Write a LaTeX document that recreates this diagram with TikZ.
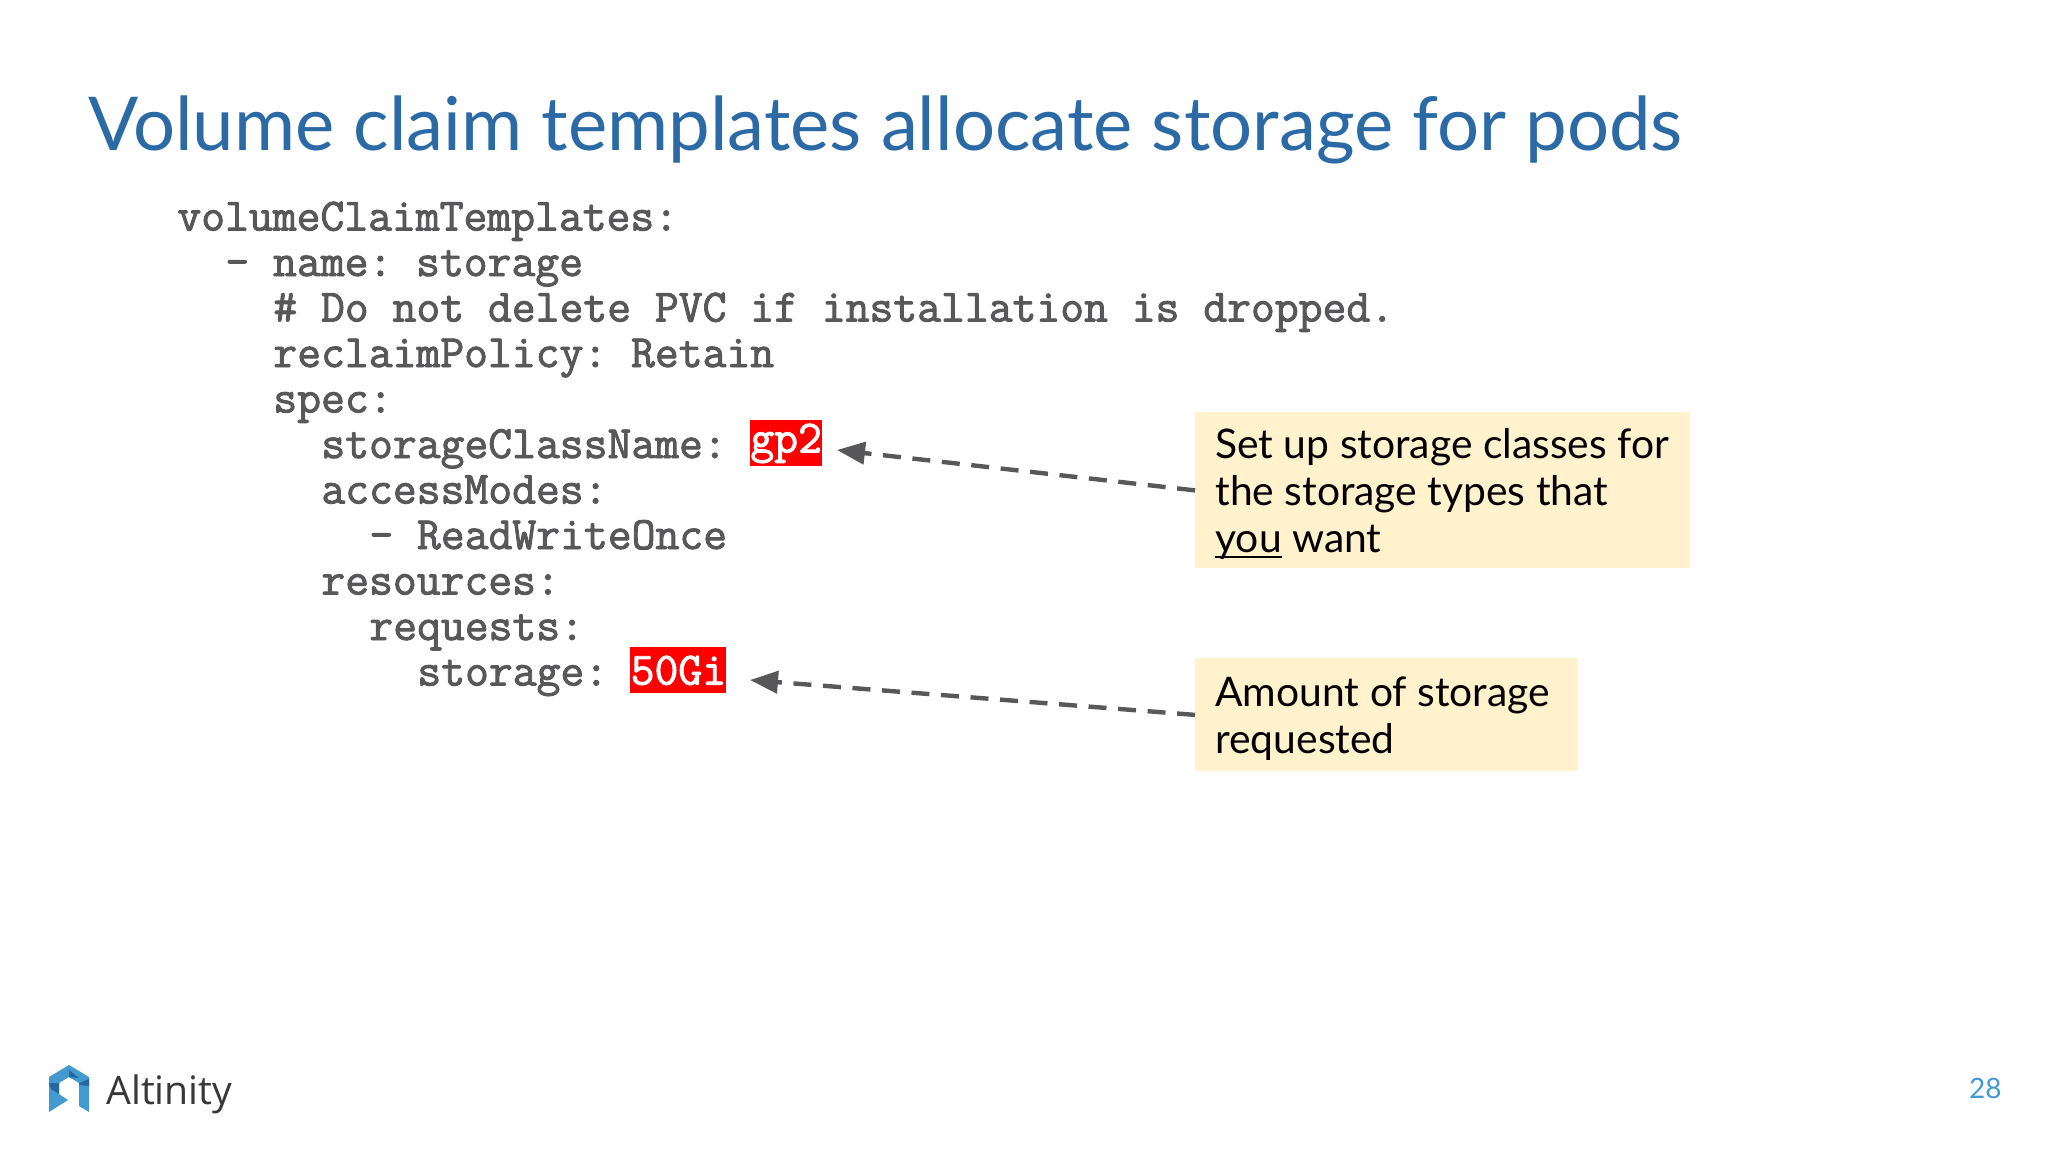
\documentclass[tikz,border=0pt]{standalone}
\usepackage{fontspec}
\setmainfont{Lato}
\newfontfamily\logofont{Open Sans}
\newfontfamily\codefont{Latin Modern Mono}[FakeBold=2]
\usetikzlibrary{arrows.meta}
\newcommand{\thickunder}[1]{\leavevmode\setbox0\hbox{#1}\rlap{\rule[-2.6pt]{\wd0}{1.2pt}}\box0\relax}
\definecolor{titleblue}{HTML}{2C6AA6}
\definecolor{codegray}{HTML}{58585A}
\definecolor{notefill}{HTML}{FFF2CC}
\definecolor{logoblue}{HTML}{4499D0}
\definecolor{logodark}{HTML}{23699F}
\tikzset{
    codeline/.style={anchor=base west, inner sep=0pt, text=codegray, font=\frenchspacing\codefont\fontsize{23.15}{24}\selectfont},
    redcode/.style={anchor=north west, inner sep=0pt, fill=red, text=white, font=\codefont\fontsize{23.15}{24}\selectfont},
    notebox/.style={anchor=north west, fill=notefill, inner sep=0pt},
    notetext/.style={anchor=north west, inner sep=0pt, align=left, font=\fontsize{20.4}{23.5}\selectfont},
    notearrow/.style={-{Triangle[length=14pt,width=11pt]}, codegray, line width=2.2pt, dash pattern=on 9pt off 5.8pt}
}
\begin{document}
\begin{tikzpicture}[x=0.5pt, y=-0.5pt]
    \useasboundingbox[fill=white] (0, 0) rectangle (2048, 1152);
    \node[anchor=base west, inner sep=0pt, text=titleblue, font=\fontsize{37.15}{40}\selectfont] (title) at (88, 150) {Volume claim templates allocate storage for pods};
    \node[codeline] (templates) at (177, 230.5) {volumeClaimTemplates:};
    \node[codeline] (name) at (225, 276) {- name: storage};
    \node[codeline] (comment) at (273, 321.5) {\# Do not delete PVC if installation is dropped.};
    \node[codeline] (policy) at (273, 367) {reclaimPolicy: Retain};
    \node[codeline] (spec) at (273, 412.5) {spec:};
    \node[codeline] (classname) at (321, 458) {storageClassName:};
    \node[codeline] (modes) at (321, 503.5) {accessModes:};
    \node[codeline] (once) at (369, 549) {- ReadWriteOnce};
    \node[codeline] (resources) at (321, 594.5) {resources:};
    \node[codeline] (requests) at (369, 640) {requests:};
    \node[codeline] (amount) at (417, 685.5) {storage:};
    \node[redcode, minimum width=35.5pt, minimum height=23pt] (gp) at (750, 420) {gp2};
    \node[redcode, minimum width=48pt, minimum height=23pt] (gi) at (630, 647) {50Gi};
    \node[notebox, minimum width=247.5pt, minimum height=78pt] (setup) at (1195, 412) {};
    \node[notebox, minimum width=191.5pt, minimum height=56.5pt] (request) at (1195, 658) {};
    \node[notetext] (setuptext) at (1215, 428.5) {Set up storage classes for\\the storage types that\\\thickunder{you} want};
    \node[notetext] (requesttext) at (1215, 676.5) {Amount of storage\\requested};
    \coordinate (tipgp) at (837, 450);
    \coordinate (tipgi) at (750, 680);
    \draw[notearrow] (setup.west) -- (tipgp);
    \draw[notearrow] (request.west) -- (tipgi);
    \fill[logoblue] (69, 1065) -- (89, 1077) -- (89, 1112) -- (79, 1106) -- (79, 1083) -- (69, 1077) -- (59, 1083) -- (59, 1094) -- (68, 1100) -- (49, 1112) -- (49, 1077) -- cycle;
    \fill[logodark] (49, 1083) -- (59, 1083) -- (59, 1094) -- (51, 1089) -- cycle;
    \fill[logodark] (79, 1083) -- (89, 1079) -- (89, 1086) -- (79, 1085) -- cycle;
    \fill[logodark] (69, 1070) -- (79, 1078) -- (69, 1077) -- cycle;
    \node[anchor=base west, inner sep=0pt, text=black!78, font=\logofont\fontsize{19.6}{22}\selectfont] (altinity) at (106, 1104) {Altinity};
    \node[anchor=base east, inner sep=0pt, text=logoblue, font=\fontsize{14}{16}\selectfont] (page) at (2002, 1098) {28};
\end{tikzpicture}
\end{document}
